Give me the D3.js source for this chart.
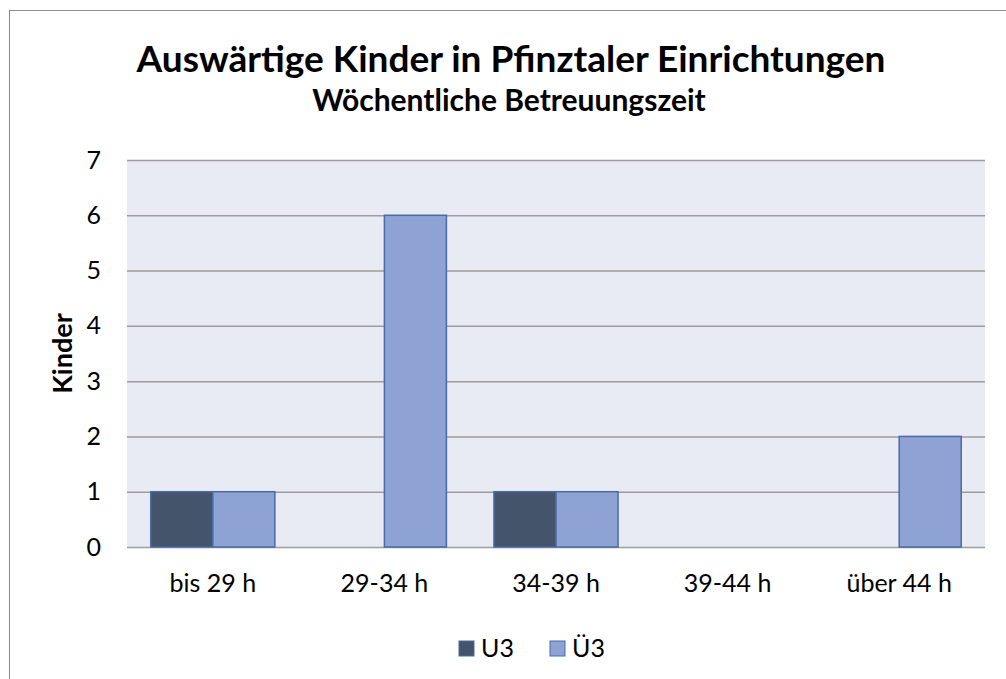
<!DOCTYPE html>
<html>
<head>
<meta charset="utf-8">
<title>Auswärtige Kinder</title>
<script src="https://cdn.jsdelivr.net/npm/d3@7"></script>
<style>
  body { margin: 0; background: #fff; }
  text { font-family: Lato, "Open Sans", sans-serif; fill: #000; }
</style>
</head>
<body>
<div id="container"></div>
<script>
  // Data
  const categories = ["bis 29 h", "29-34 h", "34-39 h", "39-44 h", "über 44 h"];
  const seriesNames = ["U3", "Ü3"];
  const u3Values = [1, 0, 1, 0, 0];
  const ue3Values = [1, 6, 1, 0, 2];
  const yTicks = [0, 1, 2, 3, 4, 5, 6, 7];
  const colors = ["#44546a", "#8fa2d4"];

  const width = 1006;
  const height = 679;
  const marginTop = 160;
  const marginBottom = 132;
  const marginLeft = 127;
  const marginRight = 21;

  const svg = d3.create("svg")
      .attr("width", width)
      .attr("height", height);

  // Chart frame
  svg.append("rect")
      .attr("x", 9.5).attr("y", 10.5)
      .attr("width", 1100).attr("height", 1000)
      .attr("fill", "none")
      .attr("stroke", "#8c8c8c");

  const x = d3.scaleBand()
      .domain(categories)
      .range([marginLeft, width - marginRight])
      .paddingInner(0.277)
      .paddingOuter(0.1385);

  const xs = d3.scaleBand()
      .domain(seriesNames)
      .range([0, x.bandwidth()]);

  const y = d3.scaleLinear()
      .domain([0, 7])
      .range([height - marginBottom, marginTop]);

  // Plot background
  svg.append("rect")
      .attr("x", marginLeft)
      .attr("y", y(7))
      .attr("width", width - marginRight - marginLeft)
      .attr("height", y(0) - y(7))
      .attr("fill", "#e8ebf4");

  // Grid lines
  svg.append("g")
      .attr("transform", `translate(${marginLeft},0)`)
      .call(d3.axisLeft(y).tickValues(yTicks).tickSize(-(width - marginRight - marginLeft)).tickFormat(""))
      .call(g => g.select(".domain").remove())
      .call(g => g.selectAll("line").attr("stroke", "#9d9d9d").attr("stroke-width", 1.5));

  // Y tick labels
  svg.append("g")
      .attr("transform", `translate(${marginLeft - 26},0)`)
      .call(d3.axisLeft(y).tickValues(yTicks).tickFormat(d3.format("d")).tickSize(0).tickPadding(0))
      .call(g => g.select(".domain").remove())
      .call(g => g.selectAll("text").attr("font-size", 25).attr("font-family", "Lato").attr("fill", "#000"));

  // Bars
  const rows = categories.map((c, i) => ({cat: c, values: [u3Values[i], ue3Values[i]]}));
  svg.append("g")
    .selectAll("g")
    .data(rows)
    .join("g")
      .attr("transform", d => `translate(${x(d.cat)},0)`)
    .selectAll("rect")
    .data(d => d.values.map((v, j) => ({name: seriesNames[j], value: v, j})))
    .join("rect")
      .filter(d => d.value > 0)
      .attr("x", d => xs(d.name))
      .attr("y", d => y(d.value))
      .attr("width", xs.bandwidth())
      .attr("height", d => y(0) - y(d.value))
      .attr("fill", d => colors[d.j])
      .attr("stroke", "#4a6aa5")
      .attr("stroke-width", 1.5);

  // X tick labels
  svg.append("g")
      .attr("transform", `translate(0,${y(0)})`)
      .call(d3.axisBottom(x).tickSize(0).tickPadding(27))
      .call(g => g.select(".domain").remove())
      .call(g => g.selectAll("text").attr("font-size", 25).attr("font-family", "Lato").attr("fill", "#000"));

  // Titles
  svg.append("text")
      .attr("x", 511).attr("y", 72)
      .attr("text-anchor", "middle")
      .attr("font-size", 37).attr("font-weight", "bold")
      .text("Auswärtige Kinder in Pfinztaler Einrichtungen");

  svg.append("text")
      .attr("x", 509).attr("y", 111)
      .attr("text-anchor", "middle")
      .attr("font-size", 30).attr("font-weight", "bold")
      .text("Wöchentliche Betreuungszeit");

  svg.append("text")
      .attr("transform", `translate(72,${(y(0) + y(7)) / 2}) rotate(-90)`)
      .attr("text-anchor", "middle")
      .attr("font-size", 27).attr("font-weight", "bold")
      .text("Kinder");

  // Legend
  const legendX = [459, 550];
  const legend = svg.append("g")
      .selectAll("g")
      .data(seriesNames)
      .join("g")
      .attr("transform", (d, i) => `translate(${legendX[i]},641)`);
  legend.append("rect")
      .attr("width", 15).attr("height", 15)
      .attr("fill", (d, i) => colors[i])
      .attr("stroke", "#4a6aa5").attr("stroke-width", 1);
  legend.append("text")
      .attr("x", 22).attr("y", 16)
      .attr("font-size", 25)
      .text(d => d);

  document.getElementById("container").append(svg.node());
</script>
</body>
</html>
